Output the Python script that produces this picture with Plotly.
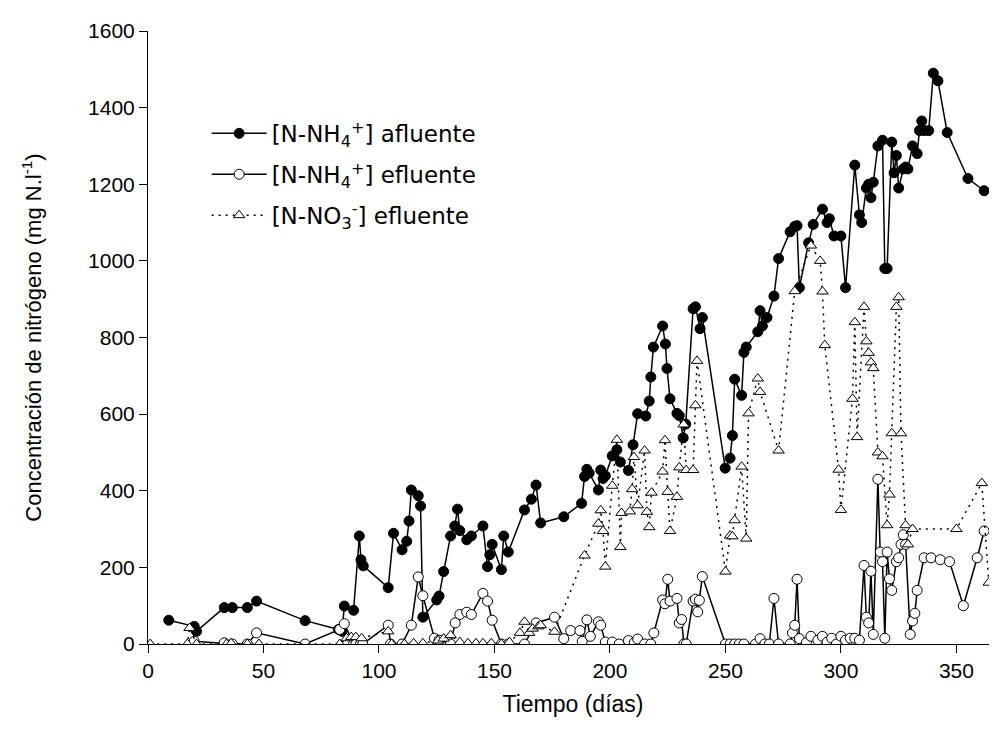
import plotly.graph_objects as go

# afluente N-NH4+ (filled circles)
days_af = [9, 20, 21, 33, 36.5, 43, 47, 68, 82.5, 84,
           85, 89, 91.5, 92.2, 93.2, 104, 106.3, 110, 112, 113,
           114, 117, 118, 119, 125, 126, 128, 131, 132.8, 134,
           135, 138, 140, 145, 147, 148, 149, 153, 154, 156,
           163, 166, 168, 170, 180, 187.7, 189, 190, 191, 195,
           196, 197, 198, 201, 203, 204.5, 208, 210, 212, 215.5,
           217, 217.7, 218.8, 222.8, 224, 224.7, 226, 229, 230, 231.7,
           232.8, 236, 237, 239, 240, 249.9, 252, 253, 254, 257,
           258, 259, 264, 265, 266, 268, 271, 273, 278, 280,
           281, 282, 286, 288, 292, 294, 295, 297, 300, 302,
           306, 308, 309, 311, 312, 313, 314, 316, 318, 319,
           320, 322, 323, 324, 325, 327, 328, 329, 331, 333,
           334, 335, 336, 338, 340, 342, 346, 355, 362]
vals_af = [62, 46, 33, 95, 95, 95, 112, 61, 38, 33,
           99, 88, 282, 220, 204, 147, 289, 246, 268, 321,
           402, 387, 360, 70, 115, 125, 189, 282, 308, 352,
           296, 272, 282, 308, 202, 233, 260, 194, 282, 240,
           350, 378, 415, 316, 332, 367, 437, 456, 446, 402,
           454, 432, 439, 491, 507, 475, 453, 520, 601, 595,
           634, 697, 775, 830, 783, 719, 640, 602, 596, 538,
           574, 875, 880, 823, 852, 459, 485, 544, 691, 649,
           761, 775, 815, 870, 830, 852, 908, 1006, 1076, 1090,
           1092, 930, 1047, 1095, 1135, 1100, 1110, 1065, 1065, 930,
           1250, 1120, 1100, 1190, 1200, 1165, 1205, 1300, 1315, 980,
           980, 1310, 1230, 1275, 1190, 1240, 1245, 1240, 1300, 1280,
           1340, 1365, 1340, 1340, 1490, 1470, 1335, 1215, 1183]

# efluente N-NH4+ (open circles)
days_ef = [20, 33, 36.5, 43, 47, 68, 83, 85, 89, 90,
           92, 93, 104, 105, 110, 114, 117, 119, 124, 126,
           131, 133, 135, 138, 140, 145, 147, 149, 153, 156,
           163, 168, 176, 180, 183, 187, 188, 190, 191.5, 195,
           196, 198, 201, 204, 208, 210.5, 212, 215, 217.7, 219,
           222.8, 223.8, 225, 226, 229, 230, 231, 232, 233, 236,
           237, 238, 238.7, 240, 250, 252, 254, 256, 258, 263,
           265, 267, 269, 271, 273, 278, 279, 280, 281, 282,
           285, 287, 290, 292, 294, 296, 298, 300, 302, 304,
           306, 308, 310, 311, 312, 313, 314, 316, 317, 318,
           319, 320, 321, 322, 324, 325, 326, 327, 328, 330,
           331, 332, 333, 336, 339, 343, 347, 353, 359, 362]
vals_ef = [7, 3, 0, 0, 29, 0, 38, 53, 0, 0,
           0, 0, 49, 0, 0, 49, 175, 126, 15, 10,
           0, 55, 77, 83, 77, 132, 112, 62, 0, 0,
           0, 55, 70, 14, 35, 35, 7, 63, 20, 58,
           49, 5, 5, 0, 9, 3, 13, 0, 0, 29,
           115, 105, 169, 112, 119, 55, 64, 0, 0, 112,
           117, 84, 114, 176, 0, 0, 0, 0, 0, 0,
           14, 0, 0, 119, 0, 0, 29, 49, 169, 14,
           3, 20, 10, 20, 5, 15, 0, 20, 10, 15,
           15, 10, 205, 70, 55, 190, 25, 430, 240, 215,
           15, 240, 170, 140, 215, 225, 260, 285, 260, 25,
           60, 80, 140, 225, 225, 220, 215, 100, 225, 295]

# efluente N-NO3- (open triangles)
days_no3 = [1, 17, 18, 21, 34, 36, 43, 48, 83, 86,
            88, 90, 92.5, 104, 105.5, 111, 115, 119, 125.6, 128,
            131, 135, 138.5, 142, 145, 148.6, 153, 156.5, 161, 163,
            165, 166.5, 169, 170, 176, 189, 195, 196, 197, 198,
            201, 203, 204.5, 205, 208.6, 209.6, 210.4, 212, 215, 216,
            217, 218, 222.8, 223.8, 225, 226, 229, 230, 231.9, 233,
            236, 237, 237.7, 250, 252, 253, 254, 257, 259, 260,
            264, 265, 273, 280, 287, 291, 292, 293, 299, 300,
            305, 306, 307, 310, 311, 312, 313, 314, 316, 318,
            320, 321, 322, 324, 325, 326, 328, 329, 331, 350,
            361, 364]
vals_no3 = [0, 0, 42, 0, 0, 2, 0, 0, 0, 15,
            18, 18, 15, 33, 0, 0, 2, 2, 9, 14,
            23, 5, 2, 2, 2, 2, 0, 5, 29, 58,
            29, 40, 46, 49, 32, 231, 314, 349, 295, 202,
            413, 533, 253, 342, 346, 404, 488, 362, 505, 345,
            305, 395, 450, 532, 397, 295, 384, 461, 573, 454,
            454, 623, 739, 189, 283, 281, 323, 463, 275, 602,
            693, 658, 505, 921, 1040, 1000, 920, 780, 455, 350,
            640, 840, 540, 880, 790, 760, 735, 720, 500, 490,
            310, 390, 550, 880, 905, 550, 310, 260, 300, 300,
            420, 160]

assert len(days_af) == len(vals_af)
assert len(days_ef) == len(vals_ef)
assert len(days_no3) == len(vals_no3)

fig = go.Figure()

fig.add_trace(go.Scatter(
    x=days_af, y=vals_af, mode="lines+markers",
    name="[N-NH<sub>4</sub><sup>+</sup>] afluente", legendgroup="a",
    line=dict(color="black", width=1.5),
    marker=dict(symbol="circle", size=10, color="black", line=dict(color="black", width=1)),
))
fig.add_trace(go.Scatter(
    x=days_ef, y=vals_ef, mode="lines+markers",
    name="[N-NH<sub>4</sub><sup>+</sup>] efluente", legendgroup="b",
    line=dict(color="black", width=1.5),
    marker=dict(symbol="circle", size=10, color="white", line=dict(color="black", width=1)),
))
fig.add_trace(go.Scatter(
    x=days_no3, y=vals_no3, mode="lines+markers",
    name="[N-NO<sub>3</sub><sup>-</sup>] efluente", legendgroup="c",
    line=dict(color="black", width=1.5, dash="2px,5px"),
    marker=dict(symbol="triangle-up", size=10, color="white", line=dict(color="black", width=1)),
))

fig.update_layout(
    width=997, height=740,
    margin=dict(l=140, r=7, t=23, b=104),
    paper_bgcolor="white", plot_bgcolor="white",
    font=dict(family="Liberation Sans, Arial, sans-serif", size=21, color="black"),
    legend=dict(
        x=0.069, y=0.868, xanchor="left", yanchor="top",
        font=dict(family="DejaVu Sans, Verdana, sans-serif", size=23),
        bgcolor="rgba(0,0,0,0)", tracegroupgap=8, itemwidth=55,
    ),
)
fig.update_xaxes(
    range=[0, 368], tickvals=[0, 50, 100, 150, 200, 250, 300, 350],
    showline=True, linecolor="black", linewidth=1,
    ticks="outside", ticklen=8, tickcolor="black",
    showgrid=False, zeroline=False,
    title=dict(text="Tiempo (días)", font=dict(size=23), standoff=14),
)
fig.update_yaxes(
    range=[0, 1600], tickvals=[0, 200, 400, 600, 800, 1000, 1200, 1400, 1600],
    showline=True, linecolor="black", linewidth=1,
    ticks="outside", ticklen=8, tickcolor="black",
    showgrid=False, zeroline=False,
    title=dict(text="Concentración de nitrógeno (mg N.l<sup>-1</sup>)", font=dict(size=22), standoff=40),
)

fig.write_html("out.html")
